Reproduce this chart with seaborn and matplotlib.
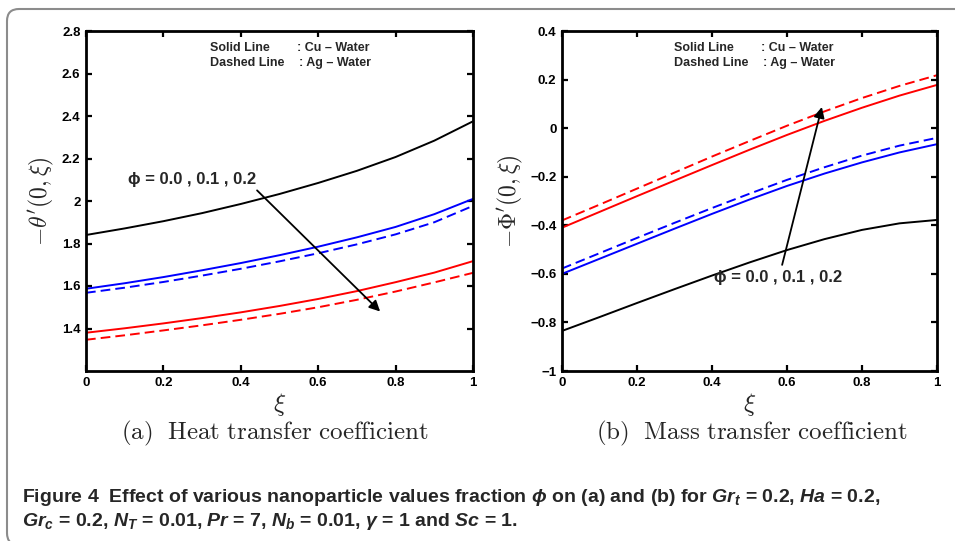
import numpy as np
import pandas as pd
import seaborn as sns
import matplotlib
matplotlib.use("Agg")
import matplotlib.pyplot as plt
from matplotlib.patches import FancyBboxPatch
from matplotlib import font_manager

# ---------------- data ----------------
xi = [0.0, 0.1, 0.2, 0.3, 0.4, 0.5, 0.6, 0.7, 0.8, 0.9, 1.0]

# (a) heat transfer coefficient  -theta'(0, xi)
heat_phi00 = [1.840, 1.871, 1.905, 1.943, 1.986, 2.033, 2.085, 2.142, 2.207, 2.284, 2.375]
heat_phi01_cu = [1.587, 1.613, 1.642, 1.674, 1.708, 1.745, 1.785, 1.829, 1.878, 1.938, 2.010]
heat_phi01_ag = [1.568, 1.592, 1.619, 1.649, 1.681, 1.716, 1.754, 1.796, 1.843, 1.900, 1.977]
heat_phi02_cu = [1.380, 1.401, 1.424, 1.449, 1.476, 1.506, 1.539, 1.576, 1.618, 1.663, 1.717]
heat_phi02_ag = [1.347, 1.368, 1.391, 1.415, 1.441, 1.469, 1.500, 1.535, 1.574, 1.617, 1.662]

# (b) mass transfer coefficient  -Phi'(0, xi)
mass_phi00 = [-0.835, -0.778, -0.720, -0.663, -0.607, -0.553, -0.502, -0.457, -0.419, -0.392, -0.378]
mass_phi01_cu = [-0.600, -0.538, -0.476, -0.414, -0.353, -0.294, -0.238, -0.187, -0.141, -0.100, -0.066]
mass_phi01_ag = [-0.578, -0.515, -0.452, -0.390, -0.329, -0.270, -0.213, -0.161, -0.113, -0.072, -0.040]
mass_phi02_cu = [-0.410, -0.345, -0.280, -0.216, -0.152, -0.089, -0.028, 0.030, 0.084, 0.134, 0.178]
mass_phi02_ag = [-0.380, -0.315, -0.249, -0.183, -0.117, -0.053, 0.010, 0.069, 0.124, 0.174, 0.218]

heat_yticks = [1.4, 1.6, 1.8, 2.0, 2.2, 2.4, 2.6, 2.8]
heat_yticklabels = ["1.4", "1.6", "1.8", "2", "2.2", "2.4", "2.6", "2.8"]
mass_yticks = [-1.0, -0.8, -0.6, -0.4, -0.2, 0.0, 0.2, 0.4]
mass_yticklabels = ["\u22121", "\u22120.8", "\u22120.6", "\u22120.4", "\u22120.2", "0", "0.2", "0.4"]
xticks = [0, 0.2, 0.4, 0.6, 0.8, 1.0]
xticklabels = ["0", "0.2", "0.4", "0.6", "0.8", "1"]

# ---------------- style ----------------
sns.set_theme(style="ticks")
installed = {f.name for f in font_manager.fontManager.ttflist}
narrow = "Liberation Sans Narrow" if "Liberation Sans Narrow" in installed else "Liberation Sans"
plt.rcParams["font.family"] = ["Liberation Sans", "DejaVu Sans"]
plt.rcParams["mathtext.rm"] = narrow + ":bold"
plt.rcParams["mathtext.it"] = narrow + ":italic:bold"
plt.rcParams["mathtext.bf"] = narrow + ":bold"
plt.rcParams["mathtext.fallback"] = "cm"

W, H = 955, 541
fig = plt.figure(figsize=(W / 100, H / 100), dpi=100)

def fig_rect(x0, y0, x1, y1):
    return [x0 / W, 1 - y1 / H, (x1 - x0) / W, (y1 - y0) / H]

ax1 = fig.add_axes(fig_rect(86, 31, 473, 371))
ax2 = fig.add_axes(fig_rect(562, 31, 937, 371))

DASH = (0, (5, 2.6))

def draw(ax, series):
    for vals, color, ls in series:
        df = pd.DataFrame({"xi": xi, "v": vals})
        sns.lineplot(data=df, x="xi", y="v", ax=ax, color=color, linestyle=ls,
                     linewidth=1.4, legend=False)

draw(ax1, [(heat_phi00, "black", "-"),
           (heat_phi01_cu, "blue", "-"), (heat_phi01_ag, "blue", DASH),
           (heat_phi02_cu, "red", "-"), (heat_phi02_ag, "red", DASH)])
draw(ax2, [(mass_phi00, "black", "-"),
           (mass_phi01_cu, "blue", "-"), (mass_phi01_ag, "blue", DASH),
           (mass_phi02_cu, "red", "-"), (mass_phi02_ag, "red", DASH)])

def style_axes(ax, ylim, yticks, ylabels, ylabel):
    ax.set_xlim(0, 1)
    ax.set_ylim(*ylim)
    ax.set_xticks(xticks)
    ax.set_xticklabels(xticklabels)
    ax.set_yticks(yticks)
    ax.set_yticklabels(ylabels)
    for s in ax.spines.values():
        s.set_visible(True)
        s.set_linewidth(2.0)
        s.set_color("black")
    ax.tick_params(direction="in", length=4, width=1.6, top=True, right=True,
                   labelsize=9.5, pad=4, colors="black")
    for lab in ax.get_xticklabels() + ax.get_yticklabels():
        lab.set_fontweight("bold")
    ax.set_xlabel(r"$\xi$", fontsize=18, math_fontfamily="cm", labelpad=2)
    ax.set_ylabel(ylabel, fontsize=17, math_fontfamily="cm", labelpad=4)
    ax.grid(False)

style_axes(ax1, (1.2, 2.8), heat_yticks, heat_yticklabels, r"$-\theta'(0,\xi)$")
style_axes(ax2, (-1.0, 0.4), mass_yticks, mass_yticklabels, r"$-\Phi'(0,\xi)$")

for ax, x0, x1 in [(ax1, 0.32, 0.545), (ax2, 0.299, 0.531)]:
    ax.text(x0, 0.95, "Solid Line", transform=ax.transAxes, fontsize=9,
            fontweight="bold", va="center", ha="left")
    ax.text(x1, 0.95, ": Cu \u2013 Water", transform=ax.transAxes, fontsize=9,
            fontweight="bold", va="center", ha="left")
    ax.text(x0, 0.906, "Dashed Line", transform=ax.transAxes, fontsize=9,
            fontweight="bold", va="center", ha="left")
    ax.text(x1 + 0.005, 0.906, ": Ag \u2013 Water", transform=ax.transAxes, fontsize=9,
            fontweight="bold", va="center", ha="left")

phi_text = "\u03d5 = 0.0 , 0.1 , 0.2"
ax1.text(0.108, 2.103, phi_text, fontsize=12, fontweight="bold", va="center", ha="left",
         family=["Liberation Sans", "DejaVu Sans"])
ax1.annotate("", xy=(0.76, 1.48), xytext=(0.442, 2.05),
             arrowprops=dict(arrowstyle="-|>", color="black", lw=1.3,
                             mutation_scale=16, shrinkA=0, shrinkB=0))
ax2.text(0.405, -0.613, phi_text, fontsize=12, fontweight="bold", va="center", ha="left",
         family=["Liberation Sans", "DejaVu Sans"])
ax2.annotate("", xy=(0.693, 0.087), xytext=(0.587, -0.563),
             arrowprops=dict(arrowstyle="-|>", color="black", lw=1.3,
                             mutation_scale=16, shrinkA=0, shrinkB=0))

# sub-captions
fig.text(275 / W, 1 - 433 / H, r"$\mathrm{(a)\ \ Heat\ transfer\ coefficient}$",
         fontsize=18, math_fontfamily="cm", ha="center", va="center")
fig.text(752 / W, 1 - 433 / H, r"$\mathrm{(b)\ \ Mass\ transfer\ coefficient}$",
         fontsize=18, math_fontfamily="cm", ha="center", va="center")

# figure caption
cap1 = (r"Figure 4  Effect of various nanoparticle values fraction $\phi$ on (a) and (b) "
        r"for $Gr_t$ = 0.2, $Ha$ = 0.2,")
cap2 = r"$Gr_c$ = 0.2, $N_T$ = 0.01, $Pr$ = 7, $N_b$ = 0.01, $\gamma$ = 1 and $Sc$ = 1."
fs = 16.5 if narrow != "Liberation Sans" else 14
fig.text(22 / W, 1 - 497 / H, cap1, fontsize=fs, fontweight="bold", family=narrow,
         math_fontfamily="custom", ha="left", va="center")
fig.text(22 / W, 1 - 521 / H, cap2, fontsize=fs, fontweight="bold", family=narrow,
         math_fontfamily="custom", ha="left", va="center")

# rounded frame
frame = FancyBboxPatch((7, H - 545), 975, 536, boxstyle="round,pad=0,rounding_size=12",
                       transform=None, fill=False, edgecolor="#8c8c8c", linewidth=1.5,
                       zorder=-1)
fig.patches.append(frame)

fig.savefig("out.png", dpi=100)
